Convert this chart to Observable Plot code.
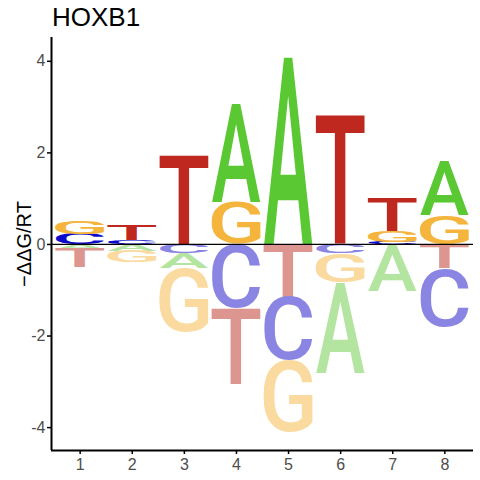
<!DOCTYPE html>
<html><head><meta charset="utf-8">
<script src="https://cdn.jsdelivr.net/npm/d3@7"></script>
<script src="https://cdn.jsdelivr.net/npm/@observablehq/plot@0.6"></script>
<style>
body{margin:0;background:#fff;font-family:"Liberation Sans",Arial,sans-serif;}
#title{height:34px;font-size:26px;line-height:34px;padding-left:52px;color:#000;white-space:nowrap;}
</style></head><body>
<div id="title">HOXB1</div>
<div id="chart"></div>
<script>
// ---- data ----
const positions = [1, 2, 3, 4, 5, 6, 7, 8];
const bases = ["A", "C", "G", "T"];
const valA = [-0.10, -0.15, -0.33, 2.16, 4.12, -1.99, -1.02, 1.19];
const valC = [0.22, 0.09, -0.20, -1.40, -1.38, -0.20, 0.05, -1.28];
const valG = [0.29, -0.25, -1.40, 0.92, -1.57, -0.63, 0.24, 0.63];
const valT = [-0.40, 0.31, 1.95, -1.66, -1.15, 2.84, 0.73, -0.53];
const xTicks = [1, 2, 3, 4, 5, 6, 7, 8];
const yTicks = [-4, -2, 0, 2, 4];
const yLabel = "\u2212\u0394\u0394G/RT";

// ---- styles ----
const posColors = {A: "#5AC832", C: "#0A0ACC", G: "#F5B43C", T: "#BE281E"};
const negColors = {A: "#B3E5A1", C: "#8A84E3", G: "#FADA9F", T: "#DD958F"};
const halfWidth = 0.47;
const FONT = "Roboto";
const WEIGHT = 500;

// ---- stacking ----
const values = {A: valA, C: valC, G: valG, T: valT};
const stacks = [];
positions.forEach((p, i) => {
  const items = bases.map(b => ({base: b, v: values[b][i]}));
  const pos = items.filter(d => d.v > 0).sort((a, b) => a.v - b.v);
  const neg = items.filter(d => d.v < 0).sort((a, b) => b.v - a.v);
  let acc = 0;
  for (const d of pos) { const y1 = acc; acc += d.v; stacks.push({pos: p, base: d.base, y1, y2: acc, fill: posColors[d.base]}); }
  acc = 0;
  for (const d of neg) { const y1 = acc; acc += d.v; stacks.push({pos: p, base: d.base, y1, y2: acc, fill: negColors[d.base]}); }
});

// ---- glyph metrics ----
const mctx = document.createElement("canvas").getContext("2d");
mctx.font = `${WEIGHT} 100px ${FONT}`;
mctx.textAlign = "left";
mctx.textBaseline = "alphabetic";
const metrics = {};
for (const b of bases) {
  const m = mctx.measureText(b);
  metrics[b] = {l: m.actualBoundingBoxLeft, r: m.actualBoundingBoxRight, a: m.actualBoundingBoxAscent, d: m.actualBoundingBoxDescent};
}

const letters = Plot.rect(stacks, {
  x1: d => d.pos - halfWidth,
  x2: d => d.pos + halfWidth,
  y1: "y1",
  y2: "y2",
  render(index, scales, vals) {
    const g = d3.create("svg:g");
    for (const i of index) {
      const d = stacks[i];
      const m = metrics[d.base];
      const X1 = Math.min(vals.x1[i], vals.x2[i]), X2 = Math.max(vals.x1[i], vals.x2[i]);
      const Yt = Math.min(vals.y1[i], vals.y2[i]), Yb = Math.max(vals.y1[i], vals.y2[i]);
      if (Yb - Yt <= 0) continue;
      const sx = (X2 - X1) / (m.l + m.r);
      const sy = (Yb - Yt) / (m.a + m.d);
      g.append("text")
        .attr("transform", `translate(${X1 + m.l * sx},${Yb - m.d * sy}) scale(${sx},${sy})`)
        .attr("font-family", FONT)
        .attr("font-weight", WEIGHT)
        .attr("font-size", 100)
        .attr("text-anchor", "start")
        .attr("dominant-baseline", "alphabetic")
        .attr("fill", d.fill)
        .text(d.base);
    }
    return g.node();
  }
});

const chart = Plot.plot({
  width: 480,
  height: 446,
  marginTop: 3,
  marginBottom: 30,
  marginLeft: 51,
  marginRight: 7,
  x: {domain: [0.45, 8.55], axis: null},
  y: {domain: [-4.5, 4.52], axis: null},
  style: {background: "white", fontFamily: "'Liberation Sans', Arial, sans-serif"},
  marks: [
    letters,
    Plot.ruleY([0], {stroke: "black", strokeWidth: 1.2}),
    Plot.axisX({ticks: xTicks, tickSize: 4, tickPadding: 4, fontSize: 16, stroke: "black", fill: "#4D4D4D", strokeWidth: 1.5, label: null, tickFormat: d => String(d)}),
    Plot.axisY({ticks: yTicks, tickSize: 4, tickPadding: 2, fontSize: 16, stroke: "black", fill: "#4D4D4D", strokeWidth: 1.5, label: null, tickFormat: d => String(d)}),
    Plot.ruleX([0.45], {stroke: "black", strokeWidth: 2}),
    Plot.ruleY([-4.5], {stroke: "black", strokeWidth: 2}),
    Plot.text([yLabel], {frameAnchor: "left", textAnchor: "middle", lineAnchor: "middle", rotate: -90, dx: -27, fontSize: 20, fill: "black"})
  ]
});
document.getElementById("chart").appendChild(chart);
</script>
</body></html>
